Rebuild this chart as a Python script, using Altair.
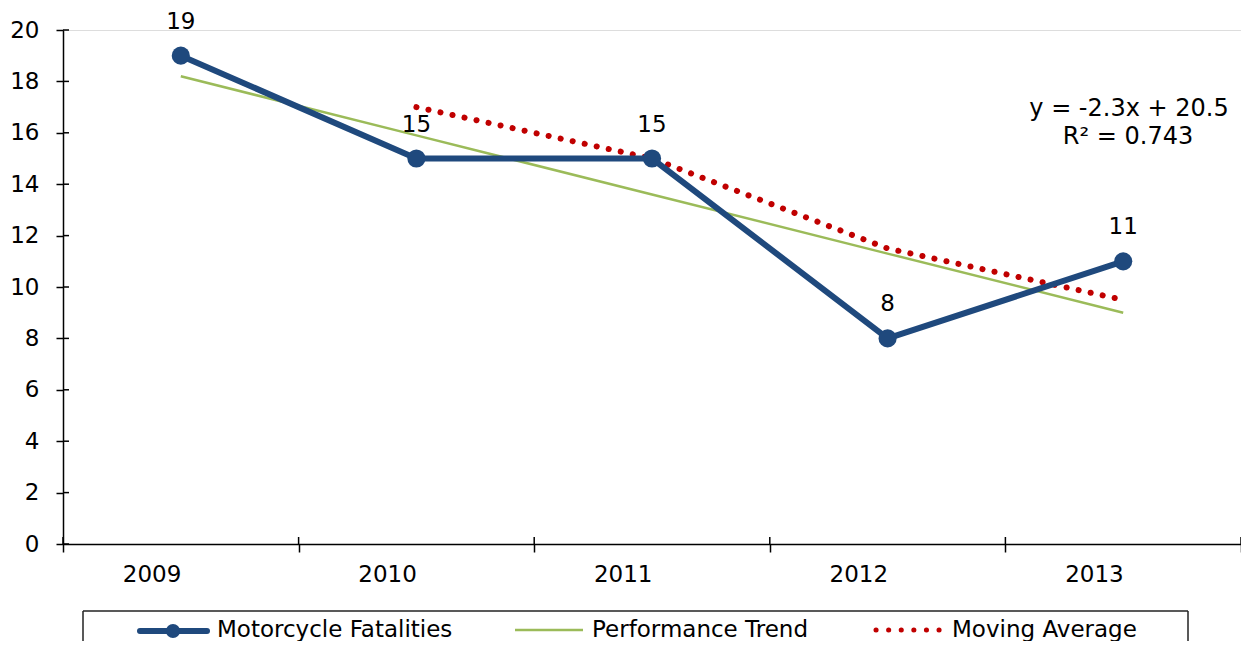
import altair as alt
import pandas as pd

# ---- data ----
years = ["2009", "2010", "2011", "2012", "2013"]
fatalities = [19, 15, 15, 8, 11]
trend = [18.2, 15.9, 13.6, 11.3, 9.0]
ma_years = ["2010", "2011", "2012", "2013"]
moving_avg = [17.0, 15.0, 11.5, 9.5]
y_ticks = [0, 2, 4, 6, 8, 10, 12, 14, 16, 18, 20]
series_names = ["Motorcycle Fatalities", "Performance Trend", "Moving Average"]
equation_lines = ["y = -2.3x + 20.5", "R² = 0.743"]

NAVY = "#1F497D"
GREEN = "#9BBB59"
RED = "#C00000"
FONT = "DejaVu Sans"
W, H = 1178, 514
PAD_B = 97

df = pd.DataFrame({"year": years, "fat": fatalities, "trend": trend})
df_ma = pd.DataFrame({"year": ma_years, "ma": moving_avg})
df_yt = pd.DataFrame({"v": y_ticks})

xscale = alt.Scale(type="band", domain=years, paddingInner=0, paddingOuter=0)
yscale = alt.Scale(domain=[0, 20], nice=False)

xaxis = alt.Axis(title=None, labelAngle=0, tickBand="extent", labelFontSize=23,
                 labelPadding=22, tickSize=8, tickWidth=1.5, domainWidth=1.5,
                 domainColor="black", tickColor="black", labelColor="black",
                 labelFont=FONT, grid=False)
yaxis = alt.Axis(title=None, values=y_ticks, labelFontSize=23, labelPadding=17,
                 tickSize=7, tickWidth=1.5, domainWidth=1.5, domainColor="black",
                 tickColor="black", labelColor="black", labelFont=FONT, grid=False)

X = alt.X("year:N", bandPosition=0.5, scale=xscale, axis=xaxis)

base = alt.Chart(df)

fat_line = base.mark_line(color=NAVY, strokeWidth=6).encode(
    x=X, y=alt.Y("fat:Q", scale=yscale, axis=yaxis))
fat_pts = base.mark_circle(color=NAVY, size=330, opacity=1).encode(
    x=alt.X("year:N", bandPosition=0.5, scale=xscale), y=alt.Y("fat:Q", scale=yscale))
trend_line = base.mark_line(color=GREEN, strokeWidth=2.5).encode(
    x=alt.X("year:N", bandPosition=0.5, scale=xscale), y=alt.Y("trend:Q", scale=yscale))
ma_line = alt.Chart(df_ma).mark_line(color=RED, strokeWidth=6, strokeDash=[0.1, 12.2],
                                     strokeCap="round").encode(
    x=alt.X("year:N", bandPosition=0.5, scale=xscale), y=alt.Y("ma:Q", scale=yscale))
labels = base.mark_text(fontSize=23, font=FONT, dy=-34, baseline="middle",
                        color="black").encode(
    x=alt.X("year:N", bandPosition=0.5, scale=xscale), y=alt.Y("fat:Q", scale=yscale),
    text="fat:Q")

# inner halves of the crossing ticks
ytick_in = alt.Chart(df_yt).mark_rule(color="black", strokeWidth=1.5).encode(
    y=alt.Y("v:Q", scale=yscale), x=alt.value(0), x2=alt.value(6))
xtick_in = base.mark_rule(color="black", strokeWidth=1.5).encode(
    x=alt.X("year:N", bandPosition=0, scale=xscale), y=alt.value(H - 7), y2=alt.value(H))
xtick_end = alt.Chart(pd.DataFrame({"k": [0]})).mark_rule(color="black", strokeWidth=1.5).encode(
    x=alt.value(W), y=alt.value(H - 7), y2=alt.value(H))

eq1 = alt.Chart(pd.DataFrame({"t": [equation_lines[0]]})).mark_text(
    fontSize=24, font=FONT, align="center", baseline="middle", color="black").encode(
    text="t:N", x=alt.value(1066), y=alt.value(79))
eq2 = alt.Chart(pd.DataFrame({"t": [equation_lines[1]]})).mark_text(
    fontSize=24, font=FONT, align="center", baseline="middle", color="black").encode(
    text="t:N", x=alt.value(1065), y=alt.value(107))

# ---- manual legend below the plot ----
one = pd.DataFrame({"k": [0]})
LY = 601
box_top = alt.Chart(one).mark_rule(color="#222222", strokeWidth=1.5).encode(
    x=alt.value(20), x2=alt.value(1125), y=alt.value(581))
box_l = alt.Chart(one).mark_rule(color="#222222", strokeWidth=1.5).encode(
    x=alt.value(20), y=alt.value(581), y2=alt.value(H + PAD_B))
box_r = alt.Chart(one).mark_rule(color="#222222", strokeWidth=1.5).encode(
    x=alt.value(1125), y=alt.value(581), y2=alt.value(H + PAD_B))
leg1_line = alt.Chart(one).mark_rule(color=NAVY, strokeWidth=6, strokeCap="round").encode(
    x=alt.value(77), x2=alt.value(144), y=alt.value(LY))
leg1_pt = alt.Chart(one).mark_circle(color=NAVY, size=200, opacity=1).encode(
    x=alt.value(110), y=alt.value(LY))
leg2_line = alt.Chart(one).mark_rule(color=GREEN, strokeWidth=2.5).encode(
    x=alt.value(452), x2=alt.value(520), y=alt.value(LY - 1))
leg3_line = alt.Chart(one).mark_rule(color=RED, strokeWidth=5, strokeDash=[0.1, 12.5],
                                      strokeCap="round").encode(
    x=alt.value(813), x2=alt.value(880), y=alt.value(LY - 1))
leg_texts = []
for name, px in zip(series_names, [154, 529, 889]):
    leg_texts.append(alt.Chart(pd.DataFrame({"t": [name]})).mark_text(
        fontSize=23, font=FONT, align="left", baseline="middle", color="black").encode(
        text="t:N", x=alt.value(px), y=alt.value(LY - 1)))

chart = alt.layer(
    trend_line, ma_line, fat_line, fat_pts, labels, ytick_in, xtick_in, xtick_end,
    eq1, eq2, box_top, box_l, box_r, leg1_line, leg1_pt, leg2_line, leg3_line,
    *leg_texts
).properties(
    width=W, height=H,
    autosize=alt.AutoSizeParams(type="none"),
    padding={"left": 55, "top": 22, "right": 0, "bottom": PAD_B},
).configure_view(stroke=None).configure(background="white")

chart.save("out.html", embed_options={"renderer": "svg", "actions": False})
